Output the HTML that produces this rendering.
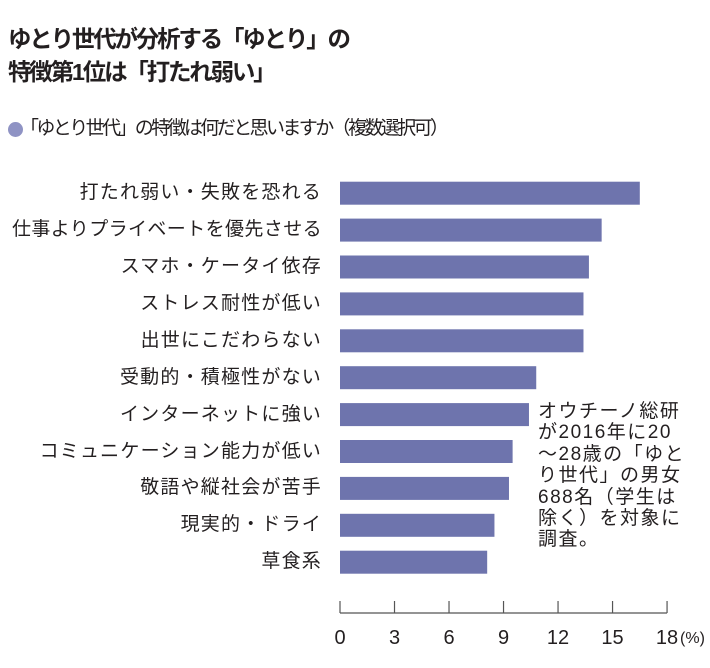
<!DOCTYPE html>
<html><head><meta charset="utf-8">
<style>
body{margin:0;width:710px;height:668px;background:#fff;position:relative;overflow:hidden;font-family:"Liberation Sans","Noto Sans CJK JP",sans-serif;color:#231f20}
.t{position:absolute;left:8px;font-weight:bold;font-size:23.5px;letter-spacing:-2.2px;white-space:nowrap;line-height:1}
.lab{position:absolute;right:388px;font-size:19px;letter-spacing:1.2px;white-space:nowrap;line-height:1}
.note{position:absolute;left:538px;top:401px;font-size:19px;line-height:21.4px;letter-spacing:1.5px;white-space:nowrap}
</style></head>
<body>
<div class="t" style="top:28px">ゆとり世代が分析する「ゆとり」の</div>
<div class="t" style="top:61px">特徴第1位は「打たれ弱い」</div>
<div style="position:absolute;left:8px;top:122px;width:15px;height:15px;border-radius:50%;background:#8f93c4"></div>
<div style="position:absolute;left:20px;top:119px;font-size:19px;letter-spacing:-2.6px;white-space:nowrap;line-height:1">「ゆとり世代」の特徴は何だと思いますか（複数選択可）</div>
<div id="labels"></div>
<svg id="chart" width="710" height="668" style="position:absolute;left:0;top:0"></svg>
<div class="note">オウチーノ総研<br>が2016年に20<br>〜28歳の「ゆと<br>り世代」の男女<br>688名（学生は<br>除く）を対象に<br>調査。</div>
<script>
const categories=["打たれ弱い・失敗を恐れる","仕事よりプライベートを優先させる","スマホ・ケータイ依存","ストレス耐性が低い","出世にこだわらない","受動的・積極性がない","インターネットに強い","コミュニケーション能力が低い","敬語や縦社会が苦手","現実的・ドライ","草食系"];
const values=[16.5,14.4,13.7,13.4,13.4,10.8,10.4,9.5,9.3,8.5,8.1];
const tickValues=[0,3,6,9,12,15,18];
const tickLabels=["0","3","6","9","12","15","18"];
const NS="http://www.w3.org/2000/svg";
const svg=document.getElementById('chart');
const x0=340,pxPer=18.17;
function xs(v){return x0+v*pxPer;}
function ys(i){return 181.7+i*36.9;}
const barH=23;
const labels=document.getElementById('labels');
categories.forEach((c,i)=>{
  const r=document.createElementNS(NS,'rect');
  
  
  r.setAttribute('x',xs(0));r.setAttribute('y',ys(i));
  r.setAttribute('width',xs(values[i])-xs(0));r.setAttribute('height',barH);
  r.setAttribute('fill','#6e74ad');
  svg.appendChild(r);
  const d=document.createElement('div');
  d.className='lab';
  
  
  d.style.top=(ys(i)+barH/2-10)+'px';
  d.textContent=c;
  labels.appendChild(d);
  if(d.offsetLeft<4){d.style.letterSpacing='0.4px';}
});
const ax=document.createElementNS(NS,'line');


ax.setAttribute('x1',xs(0));ax.setAttribute('x2',xs(18));ax.setAttribute('y1',613);ax.setAttribute('y2',613);
ax.setAttribute('stroke','#555');ax.setAttribute('stroke-width','1.2');
svg.appendChild(ax);
tickValues.forEach((v,i)=>{
  const t=document.createElementNS(NS,'line');
  
  
  t.setAttribute('x1',xs(v));t.setAttribute('x2',xs(v));t.setAttribute('y1',601);t.setAttribute('y2',613);
  t.setAttribute('stroke','#555');t.setAttribute('stroke-width','1.2');
  svg.appendChild(t);
  const tx=document.createElementNS(NS,'text');
  
  
  tx.setAttribute('x',xs(v));tx.setAttribute('y',644);
  tx.setAttribute('text-anchor','middle');
  tx.setAttribute('font-size','20');
  tx.setAttribute('fill','#231f20');
  tx.setAttribute('font-family','"Liberation Sans",sans-serif');
  tx.textContent=tickLabels[i];
  svg.appendChild(tx);
});
const u=document.createElementNS(NS,'text');


u.setAttribute('x',xs(18)+13);u.setAttribute('y',643);
u.setAttribute('font-size','16');u.setAttribute('fill','#231f20');
u.setAttribute('font-family','"Liberation Sans",sans-serif');
u.textContent='(%)';
svg.appendChild(u);
</script>
</body></html>
